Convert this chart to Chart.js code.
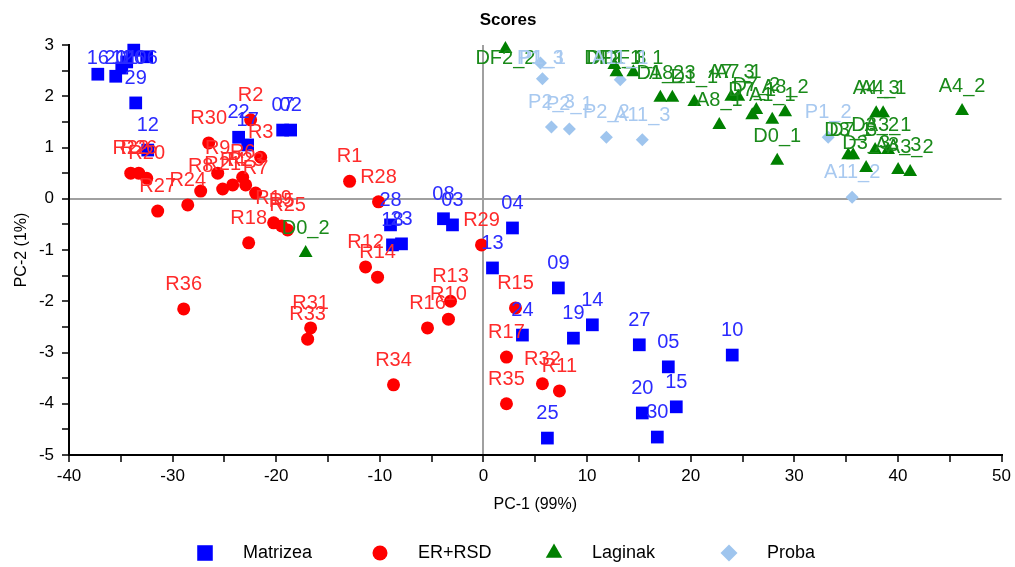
<!DOCTYPE html>
<html><head><meta charset="utf-8">
<script src="https://cdn.jsdelivr.net/npm/chart.js@4.4.1/dist/chart.umd.min.js"></script>
<style>html,body{margin:0;padding:0;background:#fff;}#wrap{width:1015px;height:567px;}</style>
</head><body><div id="wrap"><canvas id="c" width="1015" height="567"></canvas></div>
<script>
// ---- Data ----
const matrizeaNames = ['16','21','11','01','26','06','29','12','22','17','07','02','28','18','23','08','03','04','13','09','24','14','19','25','27','05','10','15','20','30'];
const matrizeaX = [-37.22,-35.49,-34.91,-34.43,-33.75,-32.50,-33.56,-32.40,-23.63,-22.76,-19.38,-18.61,-8.97,-8.78,-7.91,-3.86,-2.99,2.80,0.87,7.23,3.76,10.51,8.68,6.17,15.04,17.84,24.01,18.61,15.33,16.78];
const matrizeaY = [2.43,2.39,2.55,2.67,2.90,2.77,1.87,0.95,1.20,1.05,1.34,1.34,-0.51,-0.90,-0.88,-0.39,-0.51,-0.57,-1.35,-1.74,-2.66,-2.46,-2.72,-4.67,-2.85,-3.28,-3.05,-4.06,-4.18,-4.65];

const erNames = ['R1','R2','R3','R4','R5','R6','R7','R8','R9','R10','R11','R12','R13','R14','R15','R16','R17','R18','R19','R20','R21','R22','R23','R24','R25','R26','R27','R28','R29','R30','R31','R32','R33','R34','R35','R36'];
const erX = [-12.92,-22.47,-21.50,-24.20,-19.48,-23.24,-21.99,-27.29,-25.65,-3.38,7.33,-11.38,-3.18,-10.22,3.09,-5.40,2.22,-22.66,-20.25,-32.50,-25.17,-34.04,-22.95,-28.54,-18.90,-33.27,-31.44,-10.13,-0.19,-26.52,-16.68,5.69,-16.97,-8.68,2.22,-28.93];
const erY = [0.34,1.54,0.81,0.27,-0.53,0.42,0.11,0.15,0.50,-2.35,-3.75,-1.33,-2.00,-1.53,-2.13,-2.52,-3.09,-0.86,-0.47,0.40,0.19,0.50,0.27,-0.12,-0.61,0.50,-0.24,-0.06,-0.90,1.09,-2.52,-3.61,-2.74,-3.63,-4.00,-2.15];

const laginakNames = ['DF2_2','D0_2','D0_1','DF2_1','DF1_3','DF1_1','D1_2','A8_3','D1_1','A8_1','A7_3','A7_1','D7_1','D7_2','A1_1','A8_2','A4_3','A4_1','A4_2','D3_1','D7_3','D3_2','A3_1','D3_3','A3_3','A3_2'];
const laginakX = [2.12,-17.16,28.35,12.63,12.83,14.46,17.07,18.23,20.35,22.76,23.92,24.59,25.94,26.33,27.87,29.12,37.90,38.57,46.19,35.20,35.68,37.80,39.05,36.93,40.02,41.18];
const laginakY = [2.92,-1.06,0.74,2.61,2.47,2.47,1.97,1.97,1.89,1.44,1.99,1.99,1.63,1.73,1.54,1.69,1.67,1.67,1.71,0.85,0.85,0.95,0.95,0.60,0.56,0.52];

const probaNames = ['P1_3','P1_1','A11_1','P2_3','P2_1','P2_2','A11_3','P1_2','A11_2'];
const probaX = [5.50,5.69,13.2,6.56,8.29,11.86,15.33,33.27,35.58];
const probaY = [2.65,2.34,2.32,1.40,1.36,1.20,1.15,1.20,0.03];

const seriesNames = ['Matrizea','ER+RSD','Laginak','Proba'];
const xTickLabels = [-40,-30,-20,-10,0,10,20,30,40,50];
const yTickLabels = [3,2,1,0,-1,-2,-3,-4,-5];

const toPts = (xs, ys) => xs.map((x, i) => ({x: x, y: ys[i]}));

const sans = '"Liberation Sans", Arial, sans-serif';

const pointLabels = {
  id: 'pointLabels',
  afterDatasetsDraw(chart) {
    const {ctx, chartArea} = chart;
    ctx.save();
    ctx.font = '20px ' + sans;
    ctx.textAlign = 'center';
    ctx.textBaseline = 'alphabetic';
    chart.data.datasets.forEach((ds, i) => {
      const meta = chart.getDatasetMeta(i);
      ctx.fillStyle = ds.labelColor;
      meta.data.forEach((el, j) => {
        let y = el.y - 19;
        if (y < chartArea.top + 19) y = chartArea.top + 19;
        ctx.fillText(ds.names[j], el.x, y);
      });
    });
    ctx.restore();
  }
};

const customLegend = {
  id: 'customLegend',
  afterDraw(chart) {
    const {ctx} = chart;
    const xs = [205, 380, 554, 729];
    const y = 553;
    ctx.save();
    chart.data.datasets.forEach((ds, i) => {
      ctx.fillStyle = ds.backgroundColor;
      ctx.strokeStyle = ds.backgroundColor;
      Chart.helpers.drawPoint(ctx, {pointStyle: ds.pointStyle, radius: ds.legendRadius, rotation: 0, borderWidth: 0}, xs[i], y);
      ctx.fillStyle = '#000';
      ctx.font = '18px ' + sans;
      ctx.textAlign = 'left';
      ctx.textBaseline = 'middle';
      ctx.fillText(seriesNames[i], xs[i] + 38, y);
    });
    ctx.restore();
  }
};

const titlePlugin = {
  id: 'titleText',
  afterDraw(chart) {
    const {ctx} = chart;
    ctx.save();
    ctx.font = 'bold 17px ' + sans;
    ctx.fillStyle = '#000';
    ctx.textAlign = 'center';
    ctx.textBaseline = 'middle';
    ctx.fillText('Scores', 508, 20);
    ctx.restore();
  }
};

new Chart(document.getElementById('c'), {
  type: 'scatter',
  data: {
    datasets: [
      {label: seriesNames[0], names: matrizeaNames, data: toPts(matrizeaX, matrizeaY), pointStyle: 'rect', pointRadius: 9, legendRadius: 11, backgroundColor: '#0000ff', borderColor: '#0000ff', borderWidth: 0, labelColor: '#2b2bff', clip: false},
      {label: seriesNames[1], names: erNames, data: toPts(erX, erY), pointStyle: 'circle', pointRadius: 6.5, legendRadius: 7.5, backgroundColor: '#ff0000', borderColor: '#ff0000', borderWidth: 0, labelColor: '#ff2b2b', clip: false},
      {label: seriesNames[2], names: laginakNames, data: toPts(laginakX, laginakY), pointStyle: 'triangle', pointRadius: 8, legendRadius: 9.5, backgroundColor: '#008000', borderColor: '#008000', borderWidth: 0, labelColor: '#1a8a1a', clip: false},
      {label: seriesNames[3], names: probaNames, data: toPts(probaX, probaY), pointStyle: 'rectRot', pointRadius: 6.5, legendRadius: 8.5, backgroundColor: '#9fc5ee', borderColor: '#9fc5ee', borderWidth: 0, labelColor: '#a8c9f0', clip: false}
    ]
  },
  options: {
    responsive: false,
    animation: false,
    devicePixelRatio: 1,
    layout: {padding: {top: 45, right: 12, bottom: 52.4, left: 0}},
    plugins: {legend: {display: false}, tooltip: {enabled: false}, title: {display: false}},
    scales: {
      x: {
        type: 'linear', min: -40, max: 50,
        afterFit: s => { s.height = 59.6; },
        ticks: {stepSize: 5, autoSkip: false, maxRotation: 0, padding: 4, color: '#000',
          font: {family: sans, size: 17},
          callback: v => xTickLabels.includes(v) ? String(v) : ''},
        grid: {drawOnChartArea: true, drawTicks: true, tickLength: 7, tickColor: '#000', tickWidth: 1.5,
          color: c => (c.tick && c.tick.value === 0) ? '#a0a0a0' : 'rgba(0,0,0,0)', lineWidth: 2},
        border: {display: true, color: '#000', width: 2},
        title: {display: true, text: 'PC-1 (99%)', color: '#000', font: {family: sans, size: 16}, padding: {top: 0, bottom: 0}}
      },
      y: {
        type: 'linear', min: -5, max: 3,
        afterFit: s => { s.width = 69; },
        ticks: {stepSize: 0.5, autoSkip: false, padding: 8, color: '#000',
          font: {family: sans, size: 17},
          callback: v => yTickLabels.includes(v) ? String(v) : ''},
        grid: {drawOnChartArea: true, drawTicks: true, tickLength: 7, tickColor: '#000', tickWidth: 1.5,
          color: c => (c.tick && c.tick.value === 0) ? '#a0a0a0' : 'rgba(0,0,0,0)', lineWidth: 2},
        border: {display: true, color: '#000', width: 2},
        title: {display: true, text: 'PC-2 (1%)', color: '#000', font: {family: sans, size: 16}, padding: {top: 12, bottom: 0}}
      }
    }
  },
  plugins: [pointLabels, customLegend, titlePlugin]
});
</script></body></html>
